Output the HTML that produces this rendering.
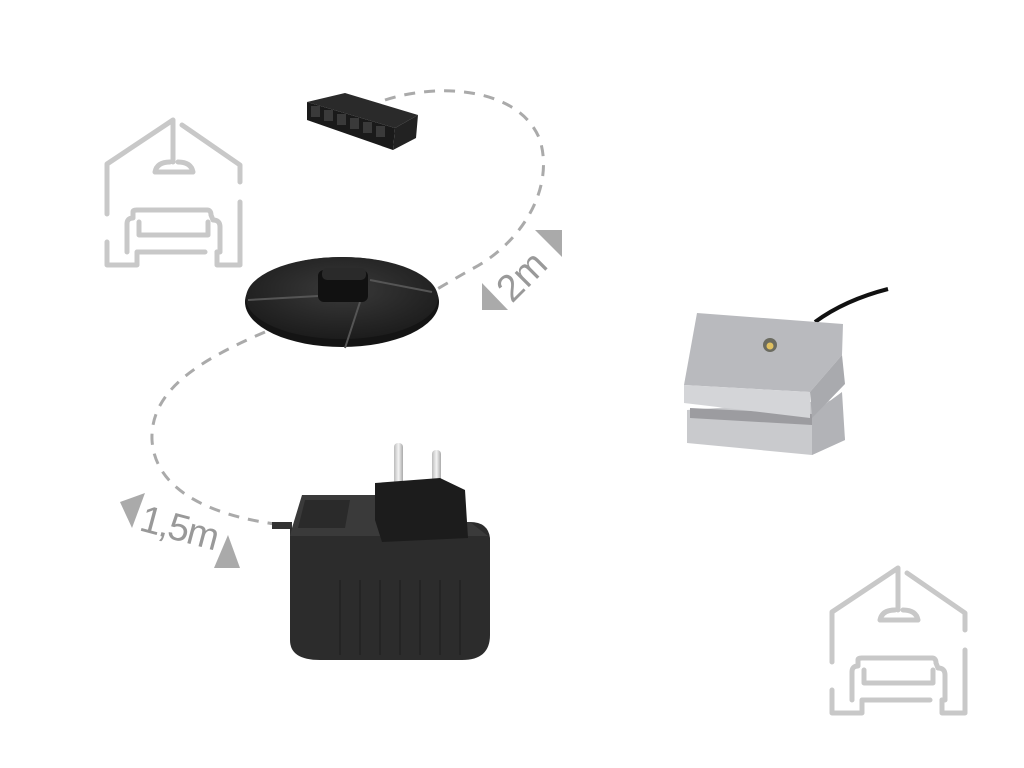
<!DOCTYPE html>
<html><head><meta charset="utf-8"><style>
html,body{margin:0;padding:0;background:#fff;width:1024px;height:768px;overflow:hidden}
svg{display:block}
</style></head><body>
<svg width="1024" height="768" viewBox="0 0 1024 768" xmlns="http://www.w3.org/2000/svg">
<defs>
<g id="house" fill="none" stroke="#c8c8c8" stroke-width="5" stroke-linecap="round" stroke-linejoin="round">
  <path d="M832,662 L832,612 L898,568 L898,610"/>
  <path d="M880,620 Q882,610 895,610 M903,610 Q916,610 918,620 L880,620"/>
  <path d="M907,573 L965,613 L965,630"/>
  <path d="M965,650 L965,713 L942,713 L942,700"/>
  <path d="M832,690 L832,713 L862,713 L862,700 L930,700"/>
  <path d="M852,700 L852,672 Q852,666 858,666 L858,660 Q858,658 862,658 L932,658 Q936,658 936,663 L938,668 Q945,668 945,675 L945,700 L942,700"/>
  <path d="M864,670 L864,683 L933,683 L933,670"/>
</g>
<linearGradient id="prong" x1="0" x2="1"><stop offset="0" stop-color="#bbb"/><stop offset="0.5" stop-color="#f4f4f4"/><stop offset="1" stop-color="#aaa"/></linearGradient>
<radialGradient id="disc" cx="0.5" cy="0.4" r="0.6"><stop offset="0" stop-color="#3a3a3a"/><stop offset="1" stop-color="#1c1c1c"/></radialGradient>
</defs>

<use href="#house"/>
<use href="#house" transform="translate(-725,-448)"/>

<path d="M385,100 C440,82 520,88 540,140 C555,190 520,245 470,270 L432,292" fill="none" stroke="#aaa" stroke-width="3" stroke-dasharray="11 9"/>
<path d="M265,332 C200,360 150,390 152,440 C155,490 210,515 275,524" fill="none" stroke="#aaa" stroke-width="3" stroke-dasharray="11 9"/>

<polygon points="535,230 562,230 562,257" fill="#aaa"/>
<polygon points="482,283 482,310 508,310" fill="#aaa"/>
<text x="0" y="0" transform="translate(512,304) rotate(-45)" font-family="Liberation Sans, sans-serif" font-size="38" fill="#999">2m</text>

<polygon points="120,502 145,493 132,528" fill="#aaa"/>
<polygon points="228,535 240,568 214,568" fill="#aaa"/>
<text x="0" y="0" transform="translate(138,530) rotate(15)" font-family="Liberation Sans, sans-serif" font-size="38" fill="#999" textLength="80">1,5m</text>

<polygon points="307,102 345,93 418,115 395,128" fill="#2a2a2a"/>
<polygon points="307,102 395,128 393,150 307,120" fill="#1a1a1a"/>
<polygon points="395,128 418,115 416,138 393,150" fill="#222"/>
<g fill="#3a3a3a">
<rect x="311" y="106" width="9" height="11"/><rect x="324" y="110" width="9" height="11"/><rect x="337" y="114" width="9" height="11"/><rect x="350" y="118" width="9" height="11"/><rect x="363" y="122" width="9" height="11"/><rect x="376" y="126" width="9" height="11"/>
</g>

<ellipse cx="342" cy="302" rx="97" ry="45" fill="#141414"/>
<ellipse cx="342" cy="298" rx="96" ry="41" fill="url(#disc)"/>
<g stroke="#555" stroke-width="2" fill="none">
<path d="M318,296 L248,300"/><path d="M370,280 L432,292"/><path d="M360,302 L345,348"/>
</g>
<rect x="318" y="270" width="50" height="32" rx="6" fill="#111"/>
<rect x="322" y="268" width="44" height="12" rx="5" fill="#2a2a2a"/>

<rect x="272" y="522" width="20" height="7" fill="#333"/>
<path d="M290,528 L290,640 Q290,660 320,660 L462,660 Q490,660 490,635 L490,538 Q488,522 470,522 L290,528 Z" fill="#2c2c2c"/>
<polygon points="292,528 302,495 378,495 378,522 470,522 488,536 290,536" fill="#3a3a3a"/>
<polygon points="305,500 350,500 345,528 298,528" fill="#2a2a2a"/>
<g stroke="#242424" stroke-width="2">
<line x1="340" y1="580" x2="340" y2="655"/><line x1="360" y1="580" x2="360" y2="655"/><line x1="380" y1="580" x2="380" y2="655"/><line x1="400" y1="580" x2="400" y2="655"/><line x1="420" y1="580" x2="420" y2="655"/><line x1="440" y1="580" x2="440" y2="655"/><line x1="460" y1="580" x2="460" y2="655"/>
</g>
<rect x="394" y="443" width="9" height="42" rx="4" fill="url(#prong)"/>
<rect x="432" y="450" width="9" height="38" rx="4" fill="url(#prong)"/>
<polygon points="375,483 440,478 465,490 468,538 382,542 375,520" fill="#1c1c1c"/>

<path d="M815,322 Q845,300 888,289" fill="none" stroke="#111" stroke-width="4"/>
<polygon points="687,410 840,400 845,440 812,455 687,443" fill="#c9cacd"/>
<polygon points="690,408 812,414 812,425 690,418" fill="#9c9ca0"/>
<polygon points="812,414 842,392 845,440 812,455" fill="#b2b3b7"/>
<polygon points="697,313 843,324 842,355 810,392 684,385" fill="#b9babe"/>
<polygon points="684,385 810,392 810,418 684,403" fill="#d4d5d8"/>
<polygon points="810,392 842,355 845,384 812,418" fill="#a9aaae"/>
<circle cx="770" cy="345" r="7" fill="#6b6b60"/>
<circle cx="770" cy="346" r="3.5" fill="#e0c060"/>
</svg>
</body></html>
